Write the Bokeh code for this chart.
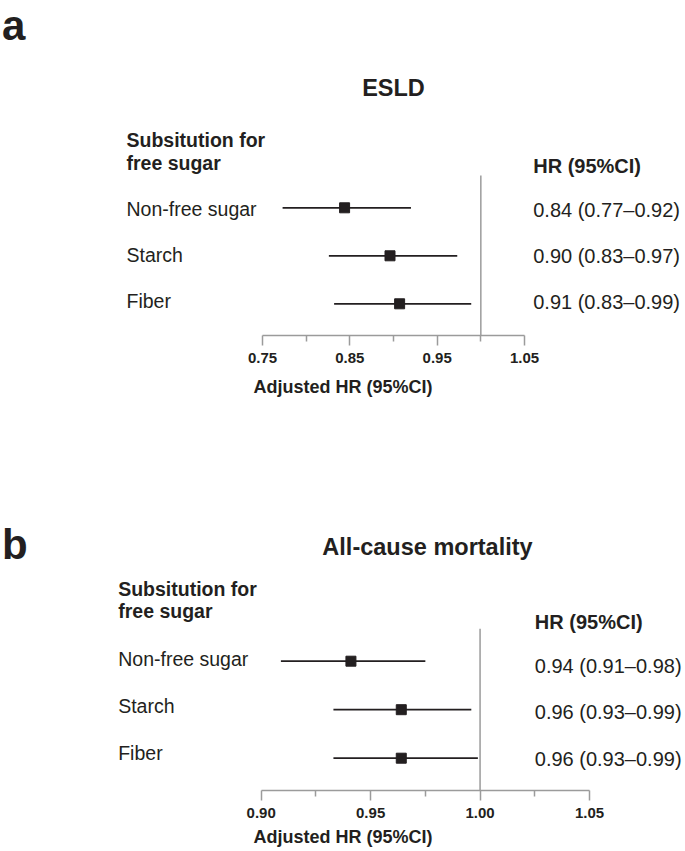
from bokeh.plotting import figure
from bokeh.layouts import column
from bokeh.models import Range1d, LinearAxis, FixedTicker, PrintfTickFormatter
from bokeh.core.properties import value
from bokeh.embed import file_html
from bokeh.resources import INLINE

# ---------------- data ----------------
categories = ["Non-free sugar", "Starch", "Fiber"]

esld_hr = [0.844, 0.896, 0.907]
esld_lo = [0.773, 0.826, 0.832]
esld_hi = [0.920, 0.973, 0.989]
esld_labels = ["0.84 (0.77\u20130.92)", "0.90 (0.83\u20130.97)", "0.91 (0.83\u20130.99)"]
esld_ticks = [0.75, 0.85, 0.95, 1.05]
esld_minor = [0.80, 0.90, 1.00]

mort_hr = [0.941, 0.964, 0.964]
mort_lo = [0.909, 0.933, 0.933]
mort_hi = [0.975, 0.996, 0.999]
mort_labels = ["0.94 (0.91\u20130.98)", "0.96 (0.93\u20130.99)", "0.96 (0.93\u20130.99)"]
mort_ticks = [0.90, 0.95, 1.00, 1.05]
mort_minor = [0.925, 0.975, 1.025]

reference_hr = 1.0

# ---------------- style ----------------
FONT = "Liberation Sans"
INK = "#231f20"
GREY = "#9b9b9b"
W = 685
BASE_FIX = 0.35  # empirical baseline correction (fraction of font size)


def make_panel(letter, title, cats, hr, lo, hi, labels, ticks, minor, lay):
    h = lay["height"]
    bb = lay["border_bottom"]
    fh = h - bb
    top = lay["page_top"]
    a0, a1 = lay["axis_px"]
    v0, v1 = ticks[0], ticks[-1]
    k = (v1 - v0) / (a1 - a0)

    def X(px):
        return v0 + (px - a0) * k

    def Y(py):
        return py - top

    p = figure(width=W, height=h, x_range=Range1d(X(0), X(W)), y_range=Range1d(fh, 0),
               x_axis_type=None, y_axis_type=None, toolbar_location=None,
               output_backend="svg", min_border_left=0, min_border_right=0,
               min_border_top=0, min_border_bottom=bb, outline_line_color=None)

    ax = LinearAxis(bounds=(v0, v1), ticker=FixedTicker(ticks=ticks, minor_ticks=minor),
                    formatter=PrintfTickFormatter(format="%.2f"))
    ax.axis_line_color = GREY
    ax.axis_line_width = 1.5
    ax.major_tick_line_color = GREY
    ax.major_tick_line_width = 1.5
    ax.major_tick_in = 0
    ax.major_tick_out = 10
    ax.minor_tick_line_color = GREY
    ax.minor_tick_line_width = 1.5
    ax.minor_tick_in = 0
    ax.minor_tick_out = 6
    ax.major_label_text_font = FONT
    ax.major_label_text_font_style = "bold"
    ax.major_label_text_font_size = "15px"
    ax.major_label_text_color = INK
    ax.major_label_standoff = lay["tick_standoff"]
    ax.axis_label = "Adjusted HR (95%CI)"
    ax.axis_label_text_font = FONT
    ax.axis_label_text_font_style = "bold"
    ax.axis_label_text_font_size = "18px"
    ax.axis_label_text_color = INK
    ax.axis_label_standoff = lay["label_standoff"]
    p.add_layout(ax, "below")

    def txt(xs, ys, texts, size, bold=False, align="left"):
        shift = BASE_FIX * size
        p.text(x=xs, y=[y - shift for y in ys], text=texts, text_font=value(FONT),
               text_font_size=value(f"{size}px"),
               text_font_style="bold" if bold else "normal",
               text_color=INK, text_align=align, text_baseline="alphabetic")

    n = len(cats)
    # reference line at HR = 1
    p.segment(x0=[reference_hr], x1=[reference_hr], y0=[Y(lay["ref_top"])], y1=[fh],
              line_color=GREY, line_width=1.5)

    ci_y = [Y(lay["ci_y0"] + i * lay["ci_dy"]) for i in range(n)]
    p.segment(x0=lo, x1=hi, y0=ci_y, y1=ci_y, line_color=INK, line_width=1.8)
    p.scatter(x=hr, y=ci_y, marker="square", size=10, fill_color=INK, line_color=INK)

    # texts
    txt([X(lay["letter_x"])], [Y(lay["letter_base"])], [letter], 42, bold=True)
    txt([X(lay["title_cx"])], [Y(lay["title_base"])], [title], 23.5, bold=True, align="center")
    txt([X(lay["head_x"])] * 2, [Y(b) for b in lay["head_base"]],
        ["Subsitution for", "free sugar"], 19.5, bold=True)
    txt([X(lay["hr_x"])], [Y(lay["hr_base"])], ["HR (95%CI)"], 20, bold=True)
    txt([X(lay["head_x"])] * n, [Y(lay["lab_y0"] + i * lay["lab_dy"]) for i in range(n)],
        cats, 19.5)
    txt([X(lay["hr_x"])] * n, [Y(lay["val_y0"] + i * lay["val_dy"]) for i in range(n)],
        labels, 20)
    return p


lay_a = dict(page_top=0, height=405, border_bottom=70, axis_px=(262, 524),
             tick_standoff=7, label_standoff=11,
             letter_x=1.5, letter_base=40, title_cx=393, title_base=96,
             head_x=126, head_base=(146.7, 169.3), hr_x=532.7, hr_base=172.7,
             lab_y0=215.7, lab_dy=46, val_y0=216.7, val_dy=45.8,
             ci_y0=207.3, ci_dy=48, ref_top=175)

lay_b = dict(page_top=405, height=446, border_bottom=61, axis_px=(260.7, 589),
             tick_standoff=7, label_standoff=6,
             letter_x=1.5, letter_base=559, title_cx=427, title_base=555,
             head_x=117.7, head_base=(595, 617.3), hr_x=534.3, hr_base=628.3,
             lab_y0=665.7, lab_dy=46.8, val_y0=672, val_dy=46.8,
             ci_y0=660.7, ci_dy=48.5, ref_top=628.3)

pa = make_panel("a", "ESLD", categories, esld_hr, esld_lo, esld_hi, esld_labels,
                esld_ticks, esld_minor, lay_a)
pb = make_panel("b", "All-cause mortality", categories, mort_hr, mort_lo, mort_hi,
                mort_labels, mort_ticks, mort_minor, lay_b)

layout = column(pa, pb)
open("out.html", "w").write(file_html(layout, INLINE))
